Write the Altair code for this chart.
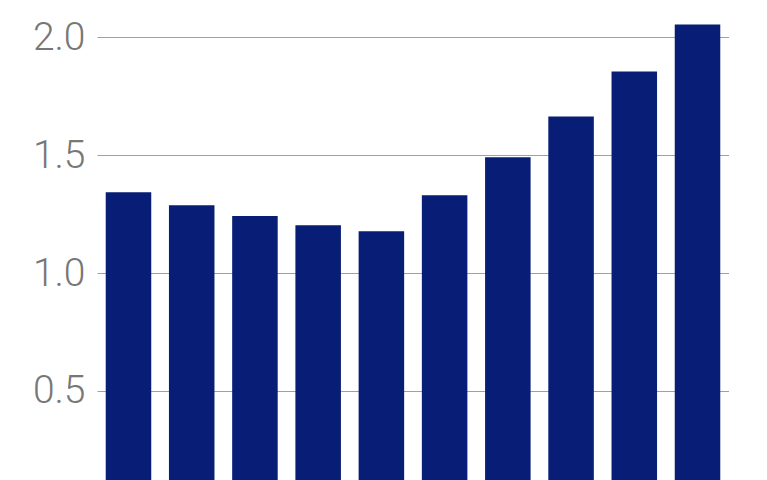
import altair as alt
import pandas as pd

categories = ["1", "2", "3", "4", "5", "6", "7", "8", "9", "10"]
values = [1.343, 1.288, 1.242, 1.203, 1.178, 1.330, 1.492, 1.665, 1.856, 2.055]
tick_values = [0.5, 1.0, 1.5, 2.0]

df = pd.DataFrame({"cat": categories, "val": values})

chart = alt.Chart(df).mark_bar(color="#081d76", clip=True).encode(
    x=alt.X("cat:N", sort=categories, axis=None,
            scale=alt.Scale(paddingInner=0.28, paddingOuter=0.138)),
    y=alt.Y("val:Q",
            scale=alt.Scale(domain=[0.122, 2.125], zero=False, nice=False),
            axis=alt.Axis(values=tick_values, format=".1f", title=None,
                          domain=False, ticks=False, grid=True,
                          gridColor="#a0a0a0", gridWidth=1,
                          labelFontSize=39, labelFont="Roboto", labelFontWeight=300,
                          labelColor="#777777", labelPadding=12)),
).properties(
    width=632, height=472,
    autosize=alt.AutoSizeParams(type="none"),
    padding={"left": 89, "top": 0, "right": 0, "bottom": 0},
).configure_view(stroke=None)

chart.save("out.html", embed_options={"renderer": "svg", "actions": False})
